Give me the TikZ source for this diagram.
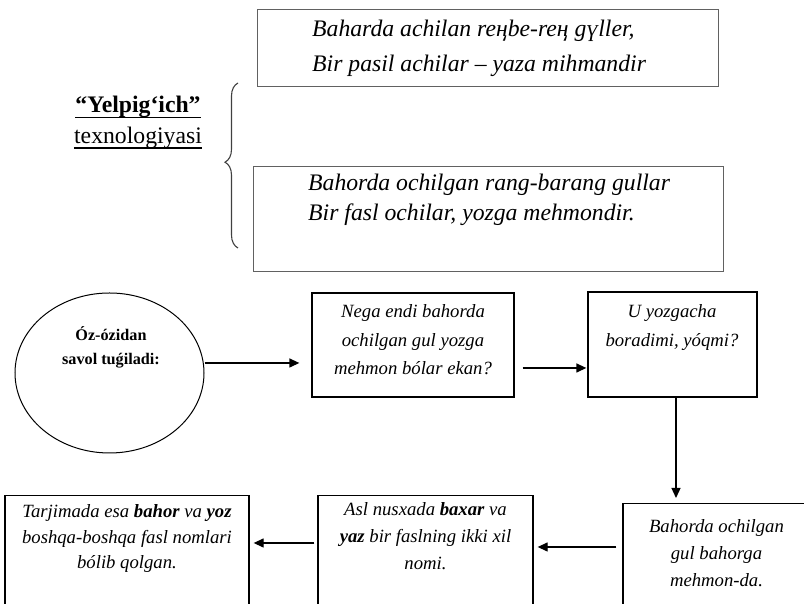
\documentclass[tikz,border=0pt]{standalone}
\usepackage{fontspec}
\setmainfont{Liberation Serif}
\usetikzlibrary{arrows.meta,shapes.geometric,decorations.pathreplacing,calc}
\begin{document}
\begin{tikzpicture}[x=1pt,y=1pt,
  topbox/.style={draw=black!62, line width=1pt, rectangle, inner sep=0pt},
  flowbox/.style={draw=black, line width=1.3pt, rectangle, inner sep=0pt},
  arr/.style={line width=1.3pt, -{Triangle[length=10pt,width=9pt]}},
  poemtxt/.style={inner sep=0pt, anchor=base west, font=\fontsize{23.7}{#1}\selectfont\itshape},
  flowtxt/.style={inner sep=0pt, anchor=base, font=\fontsize{18.7}{#1}\selectfont\itshape},
  headtxt/.style={inner sep=0pt, anchor=base, font=\fontsize{23.7}{28}\selectfont}
]
\useasboundingbox (0,0) rectangle (804,604);
\clip (0,0) rectangle (804,604);
\fill[white] (0,0) rectangle (804,604);

% top boxes
\node[topbox, minimum width=461pt, minimum height=77pt] (poemA) at (487.5,555.5) {};
\node[poemtxt=35] (poemAt) at (312,567) {\parbox[t]{420pt}{\raggedright Baharda achilan reңbe-reң gүller,\\Bir pasil achilar – yaza mihmandir}};
\node[topbox, minimum width=470pt, minimum height=105pt] (poemB) at (488,384.5) {};
\node[poemtxt=30] (poemBt) at (308,413) {\parbox[t]{420pt}{\raggedright Bahorda ochilgan rang-barang gullar\\Bir fasl ochilar, yozga mehmondir.}};

% brace
\draw[black!75, line width=1.1pt, decorate, decoration={brace, amplitude=13pt, aspect=0.52}] (238,356) -- (238,521);

% heading
\node[headtxt] (yel) at (138,491) {\textbf{“Yelpig‘ich”}};
\node[headtxt] (tex) at (138,460) {texnologiyasi};
\draw[line width=1.2pt] ([yshift=-4.5pt]yel.base west) -- ([yshift=-4.5pt]yel.base east);
\draw[line width=1.2pt] ([yshift=-4pt]tex.base west) -- ([yshift=-4pt]tex.base east);

% ellipse
\node[draw=black, line width=1pt, ellipse, minimum width=189pt, minimum height=160pt, inner sep=0pt] (ell) at (109.5,231) {};
\node[inner sep=0pt, anchor=base, font=\fontsize{16.2}{24}\selectfont\bfseries] (ellt) at (111,263) {\parbox[t]{180pt}{\centering Óz-ózidan\\savol tuǵiladi:}};

% upper flow boxes
\node[flowbox, minimum width=202pt, minimum height=104pt] (nega) at (413,259) {};
\node[flowtxt=28.5] (negat) at (413,286) {\parbox[t]{200pt}{\centering Nega endi bahorda\\ochilgan gul yozga\\mehmon bólar ekan?}};
\node[flowbox, minimum width=169pt, minimum height=105pt] (u) at (672.5,259.5) {};
\node[flowtxt=29] (ut) at (672,286) {\parbox[t]{170pt}{\centering U yozgacha\\boradimi, yóqmi?}};

% lower flow boxes
\node[flowbox, anchor=north, minimum width=187pt, minimum height=130pt] (bah) at (716.5,101) {};
\node[flowtxt=27] (baht) at (716.5,71) {\parbox[t]{200pt}{\centering Bahorda ochilgan\\gul bahorga\\mehmon-da.}};
\node[flowbox, anchor=north, minimum width=215pt, minimum height=130pt] (asl) at (425.5,109) {};
\node[flowtxt=27] (aslt) at (425.5,88) {\parbox[t]{220pt}{\centering Asl nusxada \textbf{baxar} va\\\textbf{yaz} bir faslning ikki xil\\nomi.}};
\node[flowbox, anchor=north, minimum width=244pt, minimum height=130pt] (tar) at (127,109) {};
\node[flowtxt=25.5] (tart) at (127,86) {\parbox[t]{240pt}{\centering Tarjimada esa \textbf{bahor} va \textbf{yoz}\\boshqa-boshqa fasl nomlari\\bólib qolgan.}};

% connectors
\draw[arr] ([yshift=10pt]ell.east) -- ([xshift=-12pt,yshift=-18pt]nega.west);
\draw[arr] ([xshift=8pt,yshift=-23pt]nega.east) -- ([xshift=-1pt,yshift=-23.5pt]u.west);
\draw[arr] ([xshift=3.5pt]u.south) -- ($(u.south |- bah.north)+(3.5,5)$);
\draw[arr] ($(bah.north west)+(-6,-44)$) -- ($(asl.north east)+(4,-52)$);
\draw[arr] ($(asl.north west)+(-3,-48)$) -- ($(tar.north east)+(4,-48)$);
\end{tikzpicture}
\end{document}
